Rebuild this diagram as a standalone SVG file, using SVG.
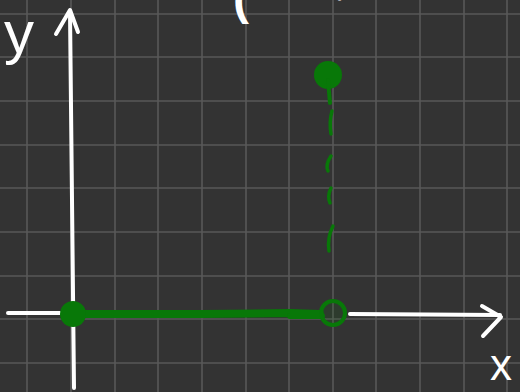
<svg xmlns="http://www.w3.org/2000/svg" width="520" height="392" viewBox="0 0 520 392">
<defs>
<style>
.grid line{stroke:#585858;stroke-width:1.6}
.ax{stroke:#fff;stroke-width:4;fill:none;stroke-linecap:round;stroke-linejoin:round}
.g{stroke:#087808;fill:none;stroke-linecap:round;stroke-linejoin:round}
.lbl{fill:#fff;font-family:"Liberation Sans",Arial,sans-serif}
</style>
</defs>
<rect width="520" height="392" fill="#333333"/>
<g class="grid">
<line x1="27" y1="0" x2="27" y2="392"/><line x1="71" y1="0" x2="71" y2="392"/><line x1="115" y1="0" x2="115" y2="392"/><line x1="158" y1="0" x2="158" y2="392"/><line x1="202" y1="0" x2="202" y2="392"/><line x1="246" y1="0" x2="246" y2="392"/><line x1="289" y1="0" x2="289" y2="392"/><line x1="333" y1="0" x2="333" y2="392"/><line x1="376" y1="0" x2="376" y2="392"/><line x1="420" y1="0" x2="420" y2="392"/><line x1="464" y1="0" x2="464" y2="392"/><line x1="507" y1="0" x2="507" y2="392"/>
<line x1="0" y1="14" x2="520" y2="14"/><line x1="0" y1="57" x2="520" y2="57"/><line x1="0" y1="101" x2="520" y2="101"/><line x1="0" y1="145" x2="520" y2="145"/><line x1="0" y1="188" x2="520" y2="188"/><line x1="0" y1="232" x2="520" y2="232"/><line x1="0" y1="276" x2="520" y2="276"/><line x1="0" y1="319" x2="520" y2="319"/><line x1="0" y1="363" x2="520" y2="363"/>
</g>
<g id="axes">
<path class="ax" d="M74 388 L72 200 L70 12"/>
<path class="ax" d="M56 34 L70 10 L78 32"/>
<path class="ax" d="M8 313 L60 313"/>
<path class="ax" d="M350 314 L500 315"/>
<path class="ax" d="M482 306 L501 317 L483 336"/>
</g>
<g id="labels">
<text class="lbl" x="4" y="53" font-size="60">y</text>
<text class="lbl" x="490" y="380" font-size="44">x</text>
<text class="lbl" x="233" y="14" font-size="48" font-weight="bold">(</text>
<text class="lbl" x="336" y="-4" font-size="30" font-weight="bold">,</text>
</g>
<g id="segment">
<path class="g" stroke-width="8" d="M74 314 L200 314 L290 313 L320 314"/>
<path class="g" stroke-width="6" d="M290 316 L322 316"/>
<circle cx="73" cy="314" r="13" fill="#087808"/>
<circle cx="333" cy="313" r="12" fill="rgba(8,120,8,0.12)" stroke="#087808" stroke-width="4"/>
</g>
<g id="dashed">
<circle cx="328" cy="75" r="14" fill="#087808"/>
<path class="g" stroke-width="4" d="M328 80 L330 103"/>
<path class="g" stroke-width="3.5" d="M332 111 Q329 122 331 134"/>
<path class="g" stroke-width="3.5" d="M331 156 Q325 165 328 171"/>
<path class="g" stroke-width="3.5" d="M331 188 Q327 196 330 203"/>
<path class="g" stroke-width="3.5" d="M333 226 Q327 238 329 251"/>
</g>
</svg>
